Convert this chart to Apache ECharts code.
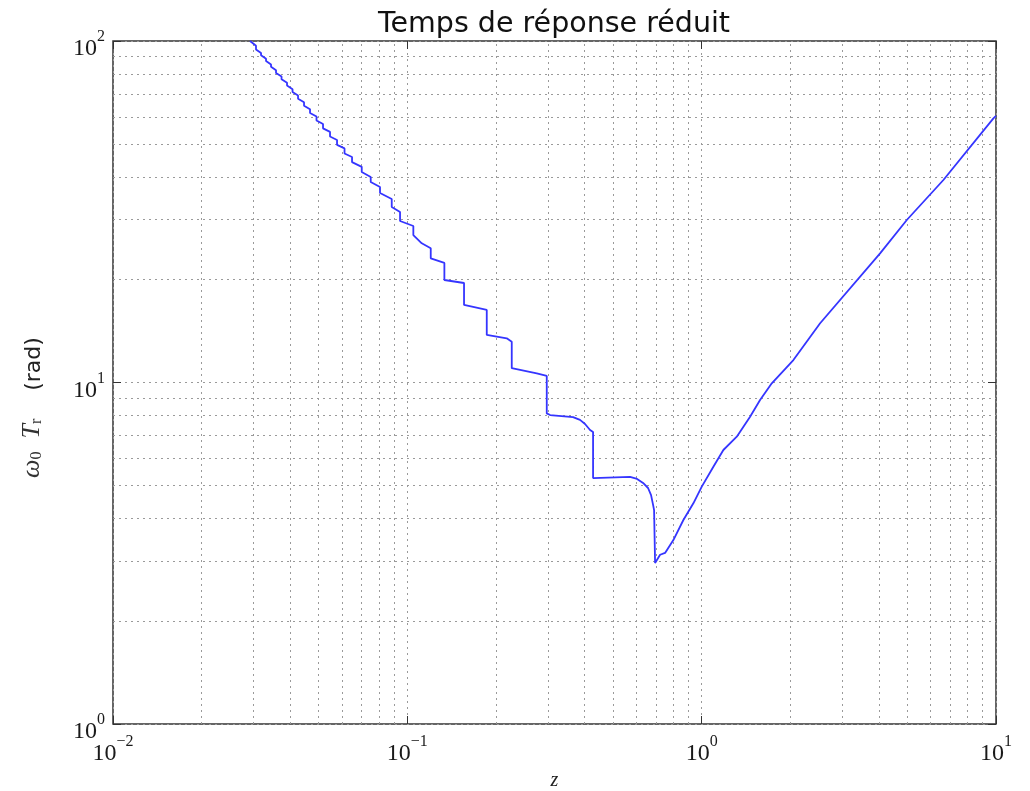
<!DOCTYPE html>
<html><head><meta charset="utf-8">
<script src="https://cdn.jsdelivr.net/npm/echarts@6/dist/echarts.min.js"></script>
<style>html,body{margin:0;padding:0;background:#fff}#c{width:1030px;height:791px}</style>
</head><body><div id="c"></div>
<script>
const titleText = 'Temps de réponse réduit';
const xName = 'z';
const yNameParts = ['ω', '0', 'T', 'r', '(rad)'];

const zVals = [
  0.02921, 0.03061, 0.03061, 0.03184, 0.03184, 0.03311, 0.03311, 0.03443, 0.03443, 0.03580,
  0.03580, 0.03738, 0.03738, 0.03902, 0.03902, 0.04074, 0.04074, 0.04253, 0.04253, 0.04457,
  0.04457, 0.04671, 0.04671, 0.04914, 0.04914, 0.05171, 0.05171, 0.05462, 0.05462, 0.05770,
  0.05770, 0.06118, 0.06118, 0.06488, 0.06488, 0.07000, 0.07000, 0.07509, 0.07509, 0.08076,
  0.08076, 0.08851, 0.08851, 0.09446, 0.09446, 0.10481, 0.10481, 0.11194, 0.12010, 0.12010,
  0.13362, 0.13362, 0.15583, 0.15583, 0.18615, 0.18615, 0.21767, 0.22634, 0.22634, 0.27527,
  0.29765, 0.29765, 0.3055, 0.3656, 0.386, 0.4016, 0.4176, 0.4276, 0.4276, 0.4343,
  0.571, 0.6034, 0.6323, 0.6575, 0.6731, 0.6838, 0.6892, 0.6946, 0.7224, 0.751,
  0.8014, 0.8667, 0.9371, 1.0008, 1.0959, 1.1850, 1.3160, 1.4604, 1.5791, 1.7306,
  2.0492, 2.5259, 4.038, 4.977, 6.626, 9.798, 10
];
const tVals = [
  100.0, 96.82, 94.48, 92.25, 90.86, 88.72, 87.38, 85.32, 84.03, 82.05,
  80.64, 78.74, 77.24, 75.42, 74.02, 72.27, 70.89, 69.22, 67.76, 66.17,
  64.64, 63.11, 61.57, 60.12, 58.53, 57.15, 55.49, 54.18, 52.54, 51.30,
  49.65, 48.48, 46.84, 45.73, 44.20, 42.80, 41.34, 39.97, 38.65, 37.37,
  35.89, 34.47, 32.65, 31.57, 29.71, 28.72, 27.03, 25.56, 24.72, 23.10,
  22.39, 19.96, 19.56, 16.87, 16.31, 13.78, 13.47, 13.17, 11.01, 10.64,
  10.45, 8.12, 8.03, 7.92, 7.77, 7.56, 7.26, 7.16, 5.25, 5.25,
  5.29, 5.22, 5.08, 4.91, 4.68, 4.38, 4.23, 2.96, 3.13, 3.17,
  3.457, 3.957, 4.429, 4.954, 5.668, 6.344, 6.939, 7.941, 8.887, 9.946,
  11.637, 14.907, 23.89, 29.91, 39.17, 59.37, 60.4
];

const xTickValues = [0.01, 0.1, 1, 10];
const xTickExps = ['−2', '−1', '0', '1'];
const yTickValues = [1, 10, 100];
const yTickExps = ['0', '1', '2'];
const xMinorGrid = [0.02, 0.03, 0.04, 0.05, 0.06, 0.07, 0.08, 0.09,
                    0.2, 0.3, 0.4, 0.5, 0.6, 0.7, 0.8, 0.9,
                    2, 3, 4, 5, 6, 7, 8, 9];
const yMinorGrid = [2, 3, 4, 5, 6, 7, 8, 9, 20, 30, 40, 50, 60, 70, 80, 90];

function expFormatter(values, exps) {
  return function (v) {
    let idx = -1;
    for (let i = 0; i < values.length; i++) {
      if (Math.abs(Math.log10(values[i]) - Math.log10(v)) < 1e-6) idx = i;
    }
    if (idx < 0) return '';
    return '{b|10}{s|' + exps[idx] + '}';
  };
}
const tickRich = {
  b: { fontFamily: 'Liberation Serif', fontSize: 24, lineHeight: 32, verticalAlign: 'bottom', color: '#1a1a1a' },
  s: { fontFamily: 'Liberation Serif', fontSize: 16, lineHeight: 14, verticalAlign: 'top', color: '#1a1a1a' }
};
const gridDash = { type: [2, 4], color: '#9a9a9a', width: 1 };

const chart = echarts.init(document.getElementById('c'), null, { renderer: 'canvas' });
chart.setOption({
  animation: false,
  backgroundColor: '#fff',
  title: {
    text: titleText, left: 549, textAlign: 'center', top: 5,
    textStyle: { fontFamily: 'DejaVu Sans', fontSize: 28.5, fontWeight: 'normal', color: '#111' }
  },
  grid: { left: 113, right: 34, top: 41, bottom: 67, outerBoundsMode: 'none', containLabel: false,
          show: true, borderColor: '#333', borderWidth: 1.5, backgroundColor: '#fff' },
  xAxis: [{
    type: 'log', logBase: 10, min: 0.01, max: 10,
    name: xName, nameLocation: 'middle', nameGap: 40,
    nameTextStyle: { fontFamily: 'Liberation Serif', fontStyle: 'italic', fontSize: 20, color: '#222' },
    axisLine: { show: false },
    axisTick: { show: true, inside: true, length: 8, lineStyle: { color: '#333' } },
    axisLabel: { margin: 10, formatter: expFormatter(xTickValues, xTickExps), rich: tickRich, showMinLabel: true, showMaxLabel: true },
    splitLine: { show: true, lineStyle: gridDash }
  }, {
    type: 'log', logBase: 10, min: 0.01, max: 10, position: 'top',
    axisLine: { show: false },
    axisTick: { show: true, inside: true, length: 8, lineStyle: { color: '#333' } },
    axisLabel: { show: false }, splitLine: { show: false }
  }],
  yAxis: [{
    type: 'log', logBase: 10, min: 1, max: 100,
    name: '{i|' + yNameParts[0] + '}{sub|' + yNameParts[1] + '}{i|  ' + yNameParts[2] + '}{sub|' + yNameParts[3] + '}{n|    ' + yNameParts[4] + '}',
    nameLocation: 'middle', nameGap: 68, nameRotate: 90,
    nameTextStyle: {
      padding: [0, 50, 0, 0],
      rich: {
        i: { fontFamily: 'Liberation Serif', fontStyle: 'italic', fontSize: 26, color: '#333', verticalAlign: 'bottom', lineHeight: 30 },
        sub: { fontFamily: 'Liberation Serif', fontSize: 16, color: '#333', verticalAlign: 'bottom', lineHeight: 24 },
        n: { fontFamily: 'DejaVu Sans', fontSize: 22, color: '#222', verticalAlign: 'bottom', lineHeight: 30 }
      }
    },
    axisLine: { show: false },
    axisTick: { show: true, inside: true, length: 8, lineStyle: { color: '#333' } },
    axisLabel: { margin: 8, padding: [8, 0, 0, 0], formatter: expFormatter(yTickValues, yTickExps), rich: tickRich, showMinLabel: true, showMaxLabel: true },
    splitLine: { show: true, lineStyle: gridDash }
  }, {
    type: 'log', logBase: 10, min: 1, max: 100, position: 'right',
    axisLine: { show: false },
    axisTick: { show: true, inside: true, length: 8, lineStyle: { color: '#333' } },
    axisLabel: { show: false }, splitLine: { show: false }
  }],
  series: [{
    type: 'line', xAxisIndex: 0, yAxisIndex: 0, data: [], silent: true, z: 1,
    markLine: {
      symbol: ['none', 'none'], silent: true, animation: false,
      label: { show: false }, emphasis: { disabled: true },
      lineStyle: gridDash,
      data: xMinorGrid.map(v => ({ xAxis: v })).concat(yMinorGrid.map(v => ({ yAxis: v })))
    }
  }, {
    type: 'line', xAxisIndex: 0, yAxisIndex: 0, z: 5,
    data: zVals.map((z, i) => [z, tVals[i]]),
    showSymbol: false, symbol: 'none', smooth: false,
    lineStyle: { color: '#3535ff', width: 1.8 }
  }]
});
</script></body></html>
